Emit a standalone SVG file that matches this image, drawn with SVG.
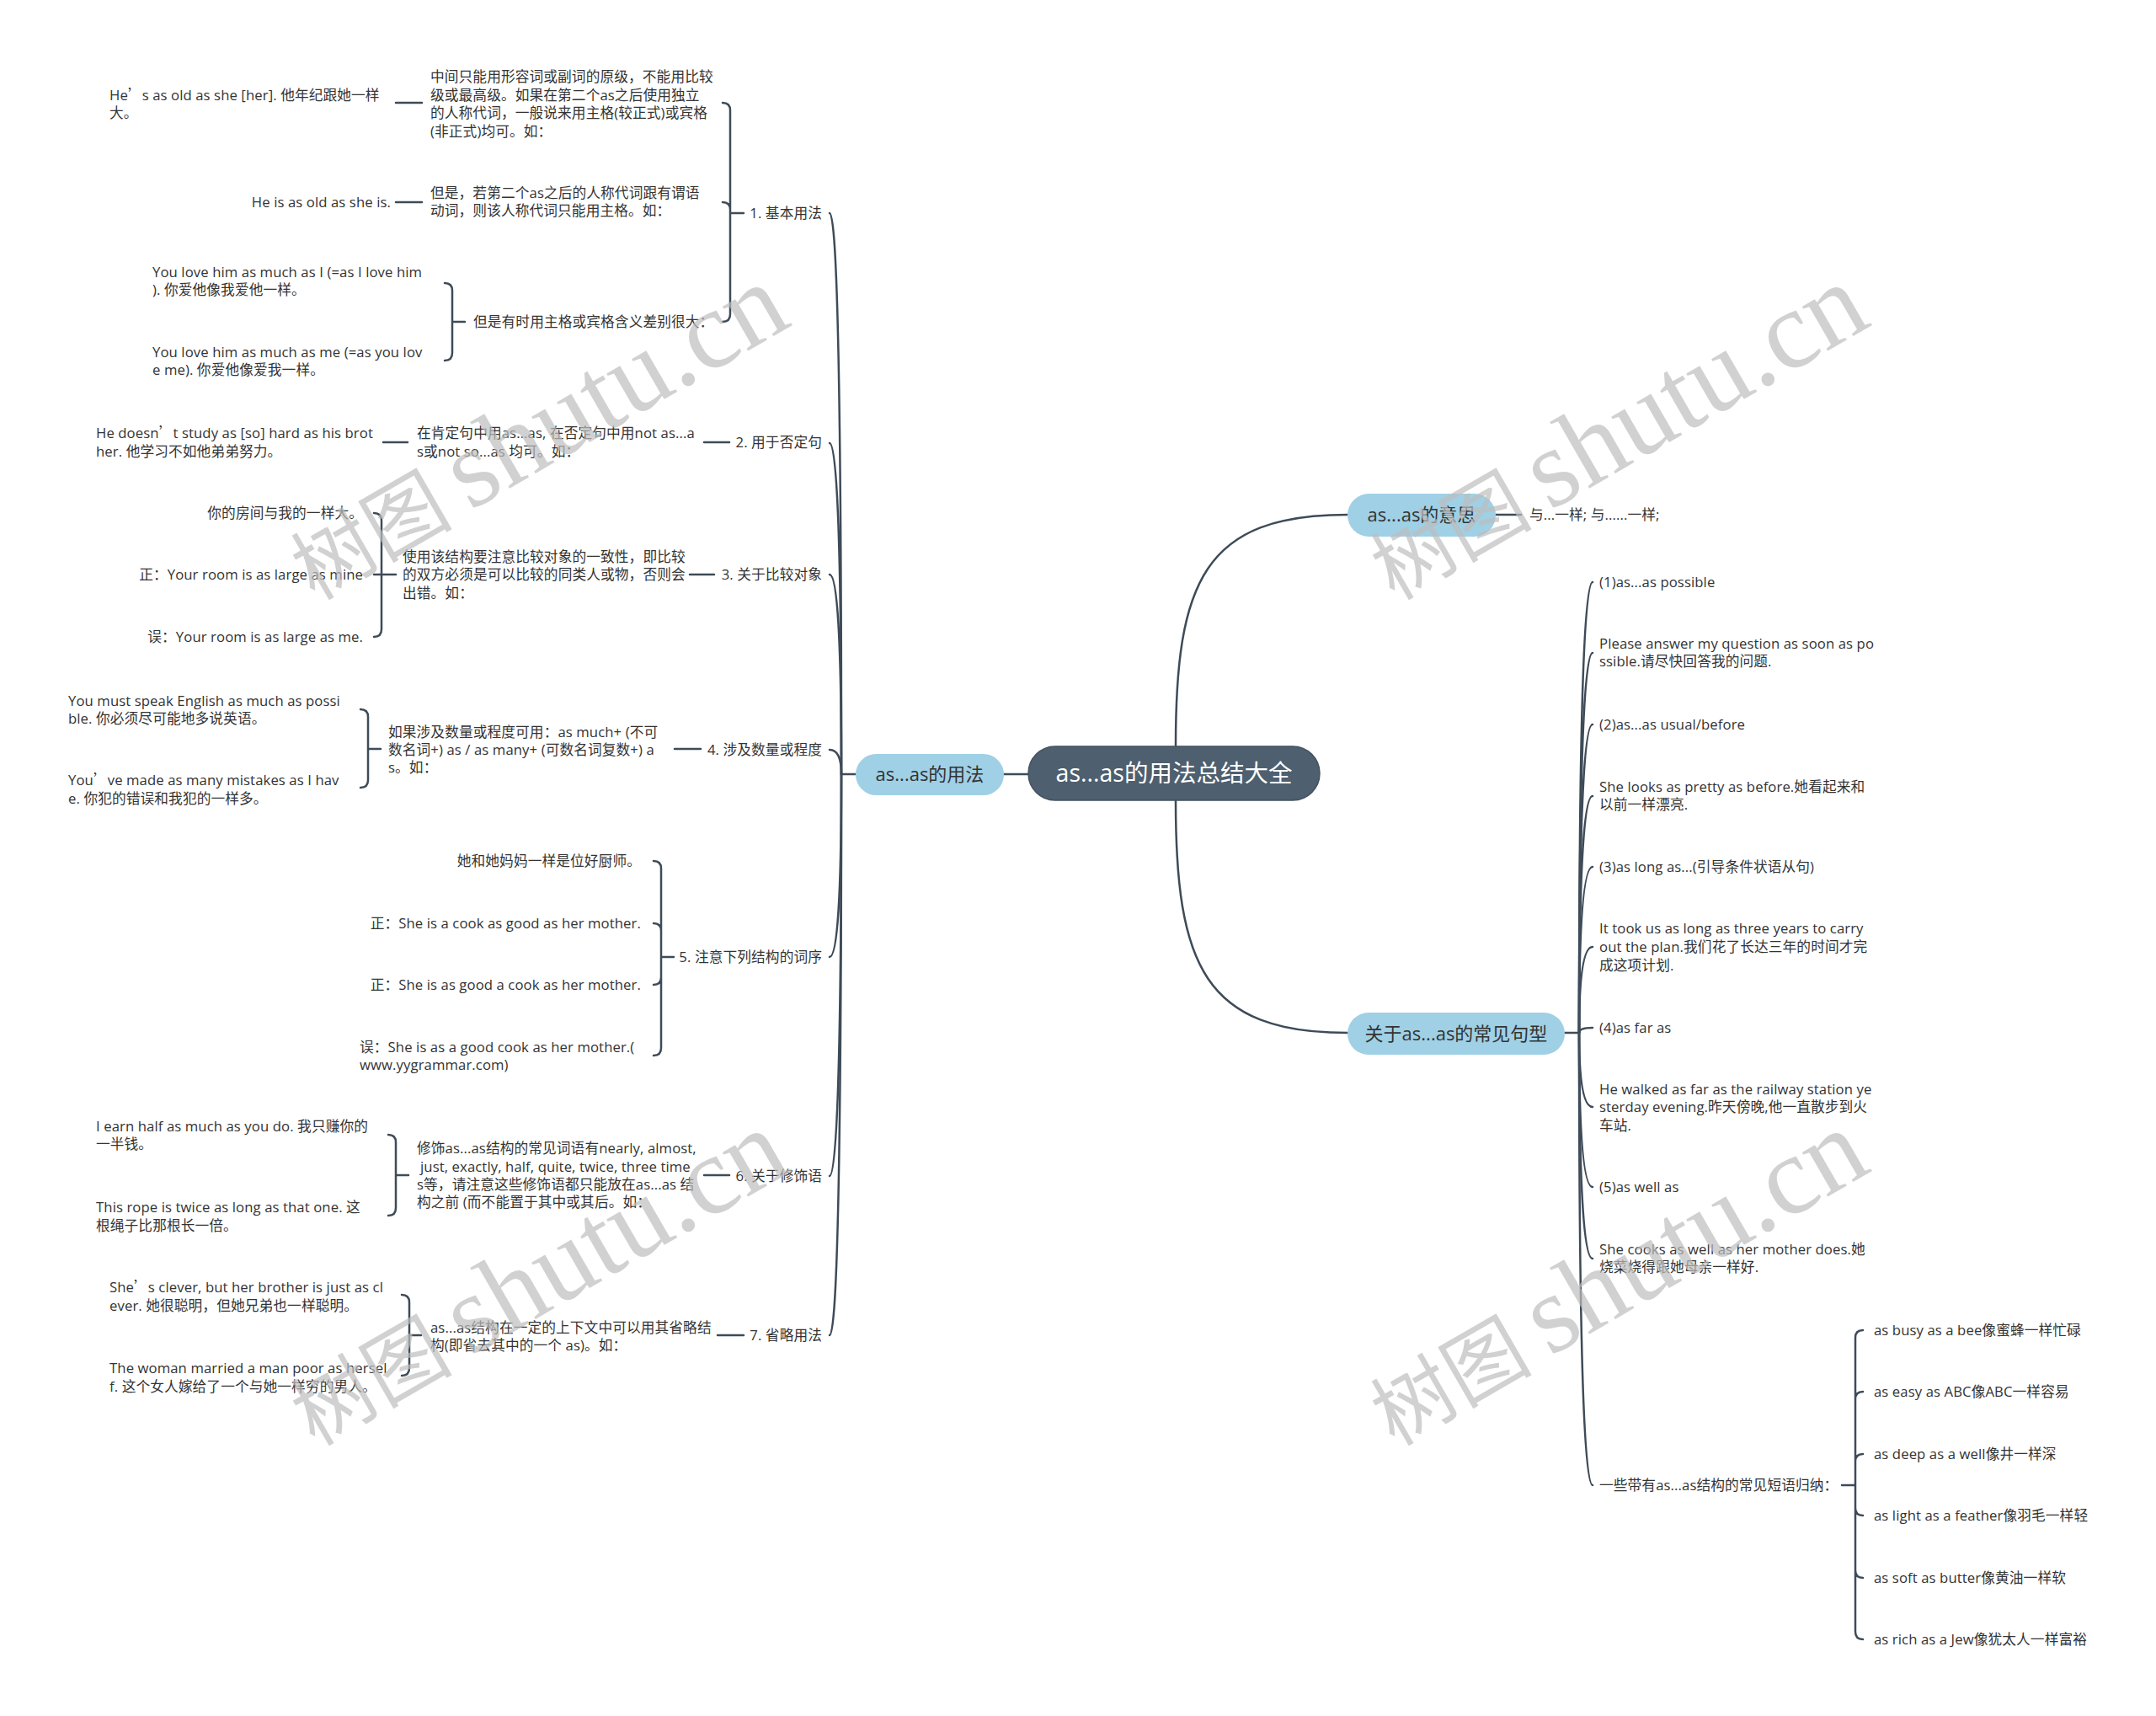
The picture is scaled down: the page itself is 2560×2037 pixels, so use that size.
<svg xmlns="http://www.w3.org/2000/svg" width="2560" height="2037" viewBox="0 0 2560 2037">
<style>
.t{font-family:"Open Sans","Noto Sans CJK SC",sans-serif;font-size:16.7px;letter-spacing:0.1px;fill:#333}
.e{text-anchor:end}
.q{font-family:"Noto Sans CJK SC",sans-serif}
.n{font-family:"Open Sans","Noto Sans CJK SC",sans-serif;font-size:22px;fill:#333;text-anchor:middle}
.c{font-family:"Open Sans","Noto Sans CJK SC",sans-serif;font-size:28.5px;fill:#fff;text-anchor:middle}
.ln{fill:none;stroke:#3e4b58;stroke-width:2.5;stroke-linecap:round}
.br{fill:none;stroke:#3e4b58;stroke-width:2.5;stroke-linecap:round}
.wm{font-family:"Noto Sans CJK SC",sans-serif;fill:#bdbdbd;fill-opacity:0.7;text-anchor:middle}
.wl{font-family:"Liberation Serif",serif}
</style>
<rect width="2560" height="2037" fill="#fff"/>

<g id="connectors">
<path class="ln" d="M1192,919 L1221,919"/>
<path class="ln" d="M999,919 L1016,919"/>
<path class="ln" d="M1396,886 C1396,690 1430,611 1600,611"/>
<path class="ln" d="M1396,950 C1396,1146 1430,1226 1600,1226"/>
<path class="ln" d="M1776,611 L1806,611"/>
<path class="ln" d="M1858,1226 L1875,1226"/>
<path class="ln" d="M999,919 Q999,253 985,253"/>
<path class="ln" d="M999,919 Q999,526 985,526"/>
<path class="ln" d="M999,919 Q999,682 985,682"/>
<path class="ln" d="M999,919 Q999,890 985,890"/>
<path class="ln" d="M999,919 Q999,1136 985,1136"/>
<path class="ln" d="M999,919 Q999,1396 985,1396"/>
<path class="ln" d="M999,919 Q999,1585 985,1585"/>
<path class="ln" d="M1875,1226 Q1875,691 1891,691"/>
<path class="ln" d="M1875,1226 Q1875,775 1891,775"/>
<path class="ln" d="M1875,1226 Q1875,860 1891,860"/>
<path class="ln" d="M1875,1226 Q1875,945 1891,945"/>
<path class="ln" d="M1875,1226 Q1875,1029 1891,1029"/>
<path class="ln" d="M1875,1226 Q1875,1124 1891,1124"/>
<path class="ln" d="M1875,1226 Q1875,1220 1891,1220"/>
<path class="ln" d="M1875,1226 Q1875,1314 1891,1314"/>
<path class="ln" d="M1875,1226 Q1875,1409 1891,1409"/>
<path class="ln" d="M1875,1226 Q1875,1494 1891,1494"/>
<path class="ln" d="M1875,1226 Q1875,1763 1891,1763"/>
<path class="br" d="M858,122 Q867,122 867,131 L867,373 Q867,382 858,382 M858,240 Q867,240 867,249 M867,253 L883,253"/>
<path class="br" d="M470,122 L501,122 M470,240 L501,240"/>
<path class="br" d="M528,336 Q537,336 537,345 L537,419 Q537,428 528,428 M537,382 L552,382"/>
<path class="br" d="M836,525 L866,525 M455,525 L484,525"/>
<path class="br" d="M819,682 L848,682"/>
<path class="br" d="M444,609 Q453,609 453,618 L453,747 Q453,756 444,756 M444,682 L470,682"/>
<path class="br" d="M801,889 L832,889"/>
<path class="br" d="M428,842 Q437,842 437,851 L437,926 Q437,935 428,935 M437,889 L452,889"/>
<path class="br" d="M776,1022 Q785,1022 785,1031 L785,1244 Q785,1253 776,1253 M776,1096 Q785,1096 785,1105 M776,1169 Q785,1169 785,1160 M785,1136 L800,1136"/>
<path class="br" d="M836,1395 L866,1395"/>
<path class="br" d="M461,1347 Q470,1347 470,1356 L470,1434 Q470,1443 461,1443 M470,1395 L485,1395"/>
<path class="br" d="M852,1585 L883,1585"/>
<path class="br" d="M477,1537 Q486,1537 486,1546 L486,1624 Q486,1633 477,1633 M486,1585 L500,1585"/>
<path class="br" d="M2187,1763 L2203,1763 M2212,1579 Q2203,1579 2203,1588 L2203,1937 Q2203,1946 2212,1946 M2212,1652 Q2203,1652 2203,1661 M2212,1726 Q2203,1726 2203,1735 M2212,1799 Q2203,1799 2203,1790 M2212,1873 Q2203,1873 2203,1864"/>
</g>

<g id="root">
<rect x="1221" y="886" width="346" height="64" rx="32" fill="#4e5f6f" stroke="#43525f" stroke-width="1.5"/>
<text class="c" x="1394" y="928">as...as的用法总结大全</text>
</g>

<g id="n-usage">
<rect x="1016" y="895" width="176" height="49" rx="24.5" fill="#9fd0e5"/>
<text class="n" x="1104" y="927">as...as的用法</text>
</g>
<g id="n-meaning">
<rect x="1600" y="586" width="176" height="51" rx="25.5" fill="#9fd0e5"/>
<text class="n" x="1688" y="619">as...as的意思</text>
</g>
<g id="n-meaning-1"><text class="t" x="1816" y="617">与...一样; 与......一样;</text></g>
<g id="n-patterns">
<rect x="1600" y="1202" width="258" height="50" rx="25" fill="#9fd0e5"/>
<text class="n" x="1729" y="1235">关于as...as的常见句型</text>
</g>

<g id="l1"><text class="t e" x="976" y="259">1. 基本用法</text></g>
<g id="l1a"><text class="t" x="511"><tspan x="511" y="97">中间只能用形容词或副词的原级，不能用比较</tspan><tspan x="511" y="118.5">级或最高级。如果在第二个as之后使用独立</tspan><tspan x="511" y="140">的人称代词，一般说来用主格(较正式)或宾格</tspan><tspan x="511" y="161.5">(非正式)均可。如：</tspan></text></g>
<g id="l1a1"><text class="t"><tspan x="130" y="119">He<tspan class="q">’</tspan>s as old as she [her]. 他年纪跟她一样</tspan><tspan x="130" y="140">大。</tspan></text></g>
<g id="l1b"><text class="t"><tspan x="511" y="235">但是，若第二个as之后的人称代词跟有谓语</tspan><tspan x="511" y="256">动词，则该人称代词只能用主格。如：</tspan></text></g>
<g id="l1b1"><text class="t e" x="464" y="246">He is as old as she is.</text></g>
<g id="l1c"><text class="t" x="562" y="388">但是有时用主格或宾格含义差别很大：</text></g>
<g id="l1c1"><text class="t"><tspan x="181" y="329">You love him as much as I (=as I love him</tspan><tspan x="181" y="350">). 你爱他像我爱他一样。</tspan></text></g>
<g id="l1c2"><text class="t"><tspan x="181" y="424">You love him as much as me (=as you lov</tspan><tspan x="181" y="445">e me). 你爱他像爱我一样。</tspan></text></g>

<g id="l2"><text class="t e" x="976" y="531">2. 用于否定句</text></g>
<g id="l2a"><text class="t"><tspan x="495" y="520">在肯定句中用as...as, 在否定句中用not as...a</tspan><tspan x="495" y="542">s或not so...as 均可。如：</tspan></text></g>
<g id="l2a1"><text class="t"><tspan x="114" y="520">He doesn<tspan class="q">’</tspan>t study as [so] hard as his brot</tspan><tspan x="114" y="542">her. 他学习不如他弟弟努力。</tspan></text></g>

<g id="l3"><text class="t e" x="976" y="688">3. 关于比较对象</text></g>
<g id="l3a"><text class="t"><tspan x="478" y="667">使用该结构要注意比较对象的一致性，即比较</tspan><tspan x="478" y="688">的双方必须是可以比较的同类人或物，否则会</tspan><tspan x="478" y="710">出错。如：</tspan></text></g>
<g id="l3a1"><text class="t e" x="431" y="615">你的房间与我的一样大。</text></g>
<g id="l3a2"><text class="t e" x="431" y="688">正：Your room is as large as mine</text></g>
<g id="l3a3"><text class="t e" x="431" y="762">误：Your room is as large as me.</text></g>

<g id="l4"><text class="t e" x="976" y="896">4. 涉及数量或程度</text></g>
<g id="l4a"><text class="t"><tspan x="461" y="875">如果涉及数量或程度可用：as much+ (不可</tspan><tspan x="461" y="896">数名词+) as / as many+ (可数名词复数+) a</tspan><tspan x="461" y="917">s。如：</tspan></text></g>
<g id="l4a1"><text class="t"><tspan x="81" y="838">You must speak English as much as possi</tspan><tspan x="81" y="859">ble. 你必须尽可能地多说英语。</tspan></text></g>
<g id="l4a2"><text class="t"><tspan x="81" y="932">You<tspan class="q">’</tspan>ve made as many mistakes as I hav</tspan><tspan x="81" y="954">e. 你犯的错误和我犯的一样多。</tspan></text></g>

<g id="l5"><text class="t e" x="976" y="1142">5. 注意下列结构的词序</text></g>
<g id="l5a"><text class="t e" x="761" y="1028">她和她妈妈一样是位好厨师。</text></g>
<g id="l5b"><text class="t e" x="761" y="1102">正：She is a cook as good as her mother.</text></g>
<g id="l5c"><text class="t e" x="761" y="1175">正：She is as good a cook as her mother.</text></g>
<g id="l5d"><text class="t"><tspan x="427" y="1249">误：She is as a good cook as her mother.(</tspan><tspan x="427" y="1270">www.yygrammar.com)</tspan></text></g>

<g id="l6"><text class="t e" x="976" y="1402">6. 关于修饰语</text></g>
<g id="l6a"><text class="t"><tspan x="495" y="1369">修饰as...as结构的常见词语有nearly, almost,</tspan><tspan x="499" y="1391">just, exactly, half, quite, twice, three time</tspan><tspan x="495" y="1412">s等，请注意这些修饰语都只能放在as...as 结</tspan><tspan x="495" y="1433">构之前 (而不能置于其中或其后。如：</tspan></text></g>
<g id="l6a1"><text class="t"><tspan x="114" y="1343">I earn half as much as you do. 我只赚你的</tspan><tspan x="114" y="1364">一半钱。</tspan></text></g>
<g id="l6a2"><text class="t"><tspan x="114" y="1439">This rope is twice as long as that one. 这</tspan><tspan x="114" y="1461">根绳子比那根长一倍。</tspan></text></g>

<g id="l7"><text class="t e" x="976" y="1591">7. 省略用法</text></g>
<g id="l7a"><text class="t"><tspan x="511" y="1582">as...as结构在一定的上下文中可以用其省略结</tspan><tspan x="511" y="1603">构(即省去其中的一个 as)。如：</tspan></text></g>
<g id="l7a1"><text class="t"><tspan x="130" y="1534">She<tspan class="q">’</tspan>s clever, but her brother is just as cl</tspan><tspan x="130" y="1556">ever. 她很聪明，但她兄弟也一样聪明。</tspan></text></g>
<g id="l7a2"><text class="t"><tspan x="130" y="1630">The woman married a man poor as hersel</tspan><tspan x="130" y="1652">f. 这个女人嫁给了一个与她一样穷的男人。</tspan></text></g>

<g id="r1"><text class="t" x="1899" y="697">(1)as...as possible</text></g>
<g id="r2"><text class="t"><tspan x="1899" y="770">Please answer my question as soon as po</tspan><tspan x="1899" y="791">ssible.请尽快回答我的问题.</tspan></text></g>
<g id="r3"><text class="t" x="1899" y="866">(2)as...as usual/before</text></g>
<g id="r4"><text class="t"><tspan x="1899" y="940">She looks as pretty as before.她看起来和</tspan><tspan x="1899" y="961">以前一样漂亮.</tspan></text></g>
<g id="r5"><text class="t" x="1899" y="1035">(3)as long as...(引导条件状语从句)</text></g>
<g id="r6"><text class="t"><tspan x="1899" y="1108">It took us as long as three years to carry</tspan><tspan x="1899" y="1130">out the plan.我们花了长达三年的时间才完</tspan><tspan x="1899" y="1152">成这项计划.</tspan></text></g>
<g id="r7"><text class="t" x="1899" y="1226">(4)as far as</text></g>
<g id="r8"><text class="t"><tspan x="1899" y="1299">He walked as far as the railway station ye</tspan><tspan x="1899" y="1320">sterday evening.昨天傍晚,他一直散步到火</tspan><tspan x="1899" y="1342">车站.</tspan></text></g>
<g id="r9"><text class="t" x="1899" y="1415">(5)as well as</text></g>
<g id="r10"><text class="t"><tspan x="1899" y="1489">She cooks as well as her mother does.她</tspan><tspan x="1899" y="1510">烧菜烧得跟她母亲一样好.</tspan></text></g>
<g id="r11"><text class="t" x="1899" y="1769">一些带有as...as结构的常见短语归纳：</text></g>
<g id="r11a"><text class="t" x="2225" y="1585">as busy as a bee像蜜蜂一样忙碌</text></g>
<g id="r11b"><text class="t" x="2225" y="1658">as easy as ABC像ABC一样容易</text></g>
<g id="r11c"><text class="t" x="2225" y="1732">as deep as a well像井一样深</text></g>
<g id="r11d"><text class="t" x="2225" y="1805">as light as a feather像羽毛一样轻</text></g>
<g id="r11e"><text class="t" x="2225" y="1879">as soft as butter像黄油一样软</text></g>
<g id="r11f"><text class="t" x="2225" y="1952">as rich as a Jew像犹太人一样富裕</text></g>

<g id="watermark">
<text class="wm" transform="translate(640,518) rotate(-30)" y="36"><tspan font-size="96">树图 </tspan><tspan class="wl" font-size="132">shutu.cn</tspan></text>
<text class="wm" transform="translate(1922,518) rotate(-30)" y="36"><tspan font-size="96">树图 </tspan><tspan class="wl" font-size="132">shutu.cn</tspan></text>
<text class="wm" transform="translate(640,1522) rotate(-30)" y="36"><tspan font-size="96">树图 </tspan><tspan class="wl" font-size="132">shutu.cn</tspan></text>
<text class="wm" transform="translate(1922,1522) rotate(-30)" y="36"><tspan font-size="96">树图 </tspan><tspan class="wl" font-size="132">shutu.cn</tspan></text>
</g>
</svg>
